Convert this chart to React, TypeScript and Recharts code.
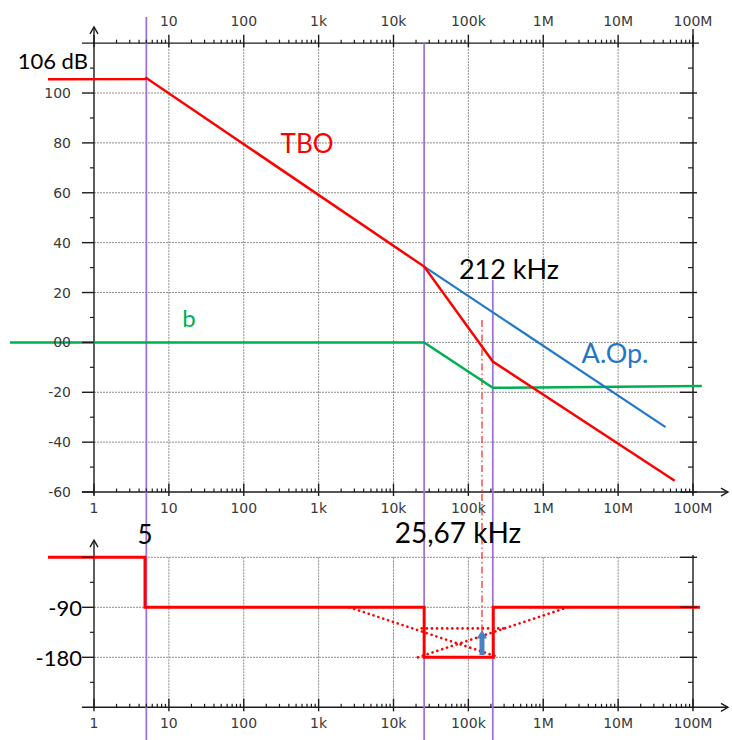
import React from "react";
import { ComposedChart, XAxis, YAxis, Line, ReferenceLine, ReferenceDot } from "recharts";

// ---------------- data ----------------
const DECADES = [1, 10, 100, 1e3, 1e4, 1e5, 1e6, 1e7, 1e8];
const DECADE_LABELS = ["1", "10", "100", "1k", "10k", "100k", "1M", "10M", "100M"];
const MINOR_MULT = [2, 3, 4, 5, 6, 7, 8, 9];

const MAG_MAJOR = [-60, -40, -20, 0, 20, 40, 60, 80, 100];
const MAG_MAJOR_LABELS = ["-60", "-40", "-20", "00", "20", "40", "60", "80", "100"];
const MAG_MINOR = [-50, -30, -10, 10, 30, 50, 70, 90, 110];
const MAG_GRID = [-40, -20, 0, 20, 40, 60, 80, 100];

const PH_MAJOR = [0, -90, -180];
const PH_MAJOR_LABELS = ["", "-90", "-180"];
const PH_MINOR = [-45, -135, -225];
const PH_GRID = [0, -90, -180];

// magnitude asymptotes (f in Hz, v in dB)
const tboMag = [
  { f: 0.243, v: 105.5 },
  { f: 4.85, v: 105.6 },
  { f: 5, v: 106 },
  { f: 25670, v: 30.4 },
  { f: 212000, v: -7.7 },
  { f: 5.7e7, v: -55.5 },
];
const aopMag = [
  { f: 25670, v: 30.4 },
  { f: 4.3e7, v: -34 },
];
const bMag = [
  { f: 0.0755, v: 0 },
  { f: 25670, v: 0 },
  { f: 212000, v: -18.2 },
  { f: 1.31e8, v: -17.5 },
];

// phase (degrees)
const tboPhase = [
  { f: 0.243, v: 0 },
  { f: 4.8, v: 0 },
  { f: 4.8, v: -90 },
  { f: 25670, v: -90 },
  { f: 25670, v: -180 },
  { f: 215000, v: -180 },
  { f: 215000, v: -90 },
  { f: 1.24e8, v: -90 },
];
const asym1 = [
  { f: 2567, v: -90 },
  { f: 256700, v: -180 },
];
const asym2 = [
  { f: 21200, v: -180 },
  { f: 2.12e6, v: -90 },
];
const asym3 = [
  { f: 23800, v: -128 },
  { f: 3.0e5, v: -128 },
];
const marginArrow = [
  { f: 152000, v: -176 },
  { f: 152000, v: -138 },
];

// vertical markers
const CORNERS = [5, 25670, 212000];
const CORNER_TOPS = [130.5, 120, 25];
const MARKER_BOTTOM = -160;
const PM_FREQ = 152000;
const PM_TOP = 9;
const PM_BOTTOM = -116;

// axis extents
const AXIS_LEFT_F = 0.69;
const AXIS_ARROW_F = 2.93e8;
const TOP_AXIS_END_F = 1.2e8;
const MAG_AXIS_TOP = 126.5;
const MAG_TOP_LINE = 120;
const MAG_BOTTOM_LINE = -60;
const RIGHT_AXIS_TOP = 125.7;
const PH_AXIS_TOP = 31;
const PH_BOTTOM_LINE = -270;
const PH_RIGHT_TOP = 4;

// annotations
const ANNOTATIONS = [
  { text: "106 dB", f: 0.83, v: 113.2, color: "#000000", size: 22, anchor: "end" },
  { text: "TBO", f: 700, v: 80, color: "#ff0000", size: 26, anchor: "middle" },
  { text: "b", f: 18.6, v: 9.8, color: "#00b050", size: 24, anchor: "middle" },
  { text: "A.Op.", f: 9.1e6, v: -3.9, color: "#1f78c8", size: 27, anchor: "middle" },
  { text: "212 kHz", f: 349000, v: 29.8, color: "#000000", size: 27, anchor: "middle" },
  { text: "25,67 kHz", f: 72600, v: -76, color: "#000000", size: 28, anchor: "middle" },
  { text: "5", f: 4.8, v: -76.8, color: "#000000", size: 26, anchor: "middle" },
];

// ---------------- layout ----------------
const W = 732;
const H = 740;
const PX_PER_DEC = 74.875;
const X_ONE = 94;
const X_DOMAIN = [Math.pow(10, -X_ONE / PX_PER_DEC), Math.pow(10, (W - X_ONE) / PX_PER_DEC)];
const MAG_PX = 2.49375;
const MAG0_Y = 342.4;
const MAG_DOMAIN = [-(H - MAG0_Y) / MAG_PX, MAG0_Y / MAG_PX];
const PH_PX = 0.5556;
const PH0_Y = 557.3;
const PH_DOMAIN = [-(H - PH0_Y) / PH_PX, PH0_Y / PH_PX];

const AXIS_COLOR = "#1c1c1c";
const GRID_COLOR = "#8c8c8c";
const PURPLE = "#9f74d6";
const TICK_FONT = "'DejaVu Sans', sans-serif";
const ANNOT_FONT = "Lato, 'Open Sans', sans-serif";

const xTickShape = (side: "top" | "bottom", major: boolean, label: string) => (p: any) => {
  const { cx, cy } = p;
  const up = major ? 8.5 : 3.5;
  const down = major ? 4 : 0;
  return (
    <g>
      <line x1={cx} x2={cx} y1={cy - up} y2={cy + down} stroke={AXIS_COLOR} strokeWidth={major ? 1.4 : 1.2} />
      {label ? (
        <text
          x={cx}
          y={side === "top" ? cy - 22 : cy + 16}
          textAnchor="middle"
          dominantBaseline="central"
          fontFamily={TICK_FONT}
          fontSize={14}
          fill="#3a3a3a"
        >
          {label}
        </text>
      ) : null}
    </g>
  );
};

const yTickShape = (side: "left" | "right", major: boolean, label: string, big: boolean) => (p: any) => {
  const { cx, cy } = p;
  const x1 = side === "left" ? cx - (major ? 12 : 4) : cx - (major ? 13 : 5);
  const x2 = side === "left" ? cx : cx + (major ? 4 : 0);
  return (
    <g>
      <line x1={x1} x2={x2} y1={cy} y2={cy} stroke={AXIS_COLOR} strokeWidth={major ? 1.4 : 1.2} />
      {label ? (
        <text
          x={big ? cx - 12 : cx - 23}
          y={cy}
          textAnchor="end"
          dominantBaseline="central"
          fontFamily={big ? ANNOT_FONT : TICK_FONT}
          fontSize={big ? 22 : 14}
          fill={big ? "#000" : "#3a3a3a"}
        >
          {label}
        </text>
      ) : null}
    </g>
  );
};

const arrowUp = (p: any) => (
  <path d={`M${p.cx - 4},${p.cy + 7} L${p.cx},${p.cy} L${p.cx + 4},${p.cy + 7}`} fill="none" stroke={AXIS_COLOR} strokeWidth={1.4} />
);
const arrowRight = (p: any) => (
  <path d={`M${p.cx - 7},${p.cy - 4} L${p.cx},${p.cy} L${p.cx - 7},${p.cy + 4}`} fill="none" stroke={AXIS_COLOR} strokeWidth={1.4} />
);

const textShape = (a: (typeof ANNOTATIONS)[number]) => (p: any) => (
  <text
    x={p.cx}
    y={p.cy}
    fill={a.color}
    fontSize={a.size}
    fontFamily={ANNOT_FONT}
    textAnchor={a.anchor as any}
    dominantBaseline="central"
  >
    {a.text}
  </text>
);

const arrowHeadDot = (p: any) => {
  if (p.index !== marginArrow.length - 1) return <g key={`ad${p.index}`} />;
  return (
    <path
      key={`ad${p.index}`}
      d={`M${p.cx - 4.5},${p.cy + 4} L${p.cx},${p.cy - 3} L${p.cx + 4.5},${p.cy + 4} Z`}
      fill="#4a7fc0"
      stroke="#4a7fc0"
    />
  );
};

export default function App() {
  const xTicks = (axisY: "mag" | "ph", yVal: number, side: "top" | "bottom", keyBase: string) => {
    const out: React.ReactNode[] = [];
    DECADES.forEach((d, i) => {
      const label = side === "top" && i === 0 ? "" : DECADE_LABELS[i];
      out.push(
        <ReferenceDot key={`${keyBase}M${i}`} x={d} y={yVal} yAxisId={axisY} r={0} shape={xTickShape(side, true, label)} />
      );
      if (i < DECADES.length - 1) {
        MINOR_MULT.forEach((m) => {
          out.push(
            <ReferenceDot key={`${keyBase}m${i}_${m}`} x={d * m} y={yVal} yAxisId={axisY} r={0} shape={xTickShape(side, false, "")} />
          );
        });
      }
    });
    return out;
  };

  const lastDec = DECADES[DECADES.length - 1];
  const lineCommon = { type: "linear" as const, dot: false, activeDot: false, isAnimationActive: false, legendType: "none" as const };

  return (
    <div style={{ position: "absolute", left: 0, top: 0, width: W, height: H, background: "#fff" }}>
      <ComposedChart width={W} height={H} margin={{ top: 0, right: 0, bottom: 0, left: 0 }}>
        <XAxis dataKey="f" type="number" scale="log" domain={X_DOMAIN} allowDataOverflow hide />
        <YAxis yAxisId="mag" type="number" domain={MAG_DOMAIN} allowDataOverflow hide />
        <YAxis yAxisId="ph" type="number" domain={PH_DOMAIN} allowDataOverflow hide />

        {/* grid - magnitude panel */}
        {DECADES.slice(1, -1).map((d) => (
          <ReferenceLine key={`gvm${d}`} yAxisId="mag" segment={[{ x: d, y: MAG_TOP_LINE }, { x: d, y: MAG_BOTTOM_LINE }]} stroke={GRID_COLOR} strokeDasharray="2 1" strokeWidth={1} ifOverflow="visible" />
        ))}
        {MAG_GRID.map((v) => (
          <ReferenceLine key={`ghm${v}`} yAxisId="mag" segment={[{ x: 1, y: v }, { x: lastDec, y: v }]} stroke={GRID_COLOR} strokeDasharray="2 1" strokeWidth={1} ifOverflow="visible" />
        ))}
        {/* grid - phase panel */}
        {DECADES.slice(1, -1).map((d) => (
          <ReferenceLine key={`gvp${d}`} yAxisId="ph" segment={[{ x: d, y: 0 }, { x: d, y: PH_BOTTOM_LINE }]} stroke={GRID_COLOR} strokeDasharray="2 1" strokeWidth={1} ifOverflow="visible" />
        ))}
        {PH_GRID.map((v) => (
          <ReferenceLine key={`ghp${v}`} yAxisId="ph" segment={[{ x: 1, y: v }, { x: lastDec, y: v }]} stroke={GRID_COLOR} strokeDasharray="2 1" strokeWidth={1} ifOverflow="visible" />
        ))}

        {/* axis lines - magnitude */}
        <ReferenceLine yAxisId="mag" segment={[{ x: 1, y: MAG_AXIS_TOP }, { x: 1, y: MAG_BOTTOM_LINE - 1 }]} stroke={AXIS_COLOR} strokeWidth={1.4} ifOverflow="visible" />
        <ReferenceLine yAxisId="mag" segment={[{ x: lastDec, y: RIGHT_AXIS_TOP }, { x: lastDec, y: MAG_BOTTOM_LINE - 1 }]} stroke={AXIS_COLOR} strokeWidth={1.4} ifOverflow="visible" />
        <ReferenceLine yAxisId="mag" segment={[{ x: AXIS_LEFT_F, y: MAG_TOP_LINE }, { x: TOP_AXIS_END_F, y: MAG_TOP_LINE }]} stroke={AXIS_COLOR} strokeWidth={1.4} ifOverflow="visible" />
        <ReferenceLine yAxisId="mag" segment={[{ x: AXIS_LEFT_F, y: MAG_BOTTOM_LINE }, { x: AXIS_ARROW_F, y: MAG_BOTTOM_LINE }]} stroke={AXIS_COLOR} strokeWidth={1.4} ifOverflow="visible" />
        {/* axis lines - phase */}
        <ReferenceLine yAxisId="ph" segment={[{ x: 1, y: PH_AXIS_TOP }, { x: 1, y: PH_BOTTOM_LINE - 2 }]} stroke={AXIS_COLOR} strokeWidth={1.4} ifOverflow="visible" />
        <ReferenceLine yAxisId="ph" segment={[{ x: lastDec, y: PH_RIGHT_TOP }, { x: lastDec, y: PH_BOTTOM_LINE - 2 }]} stroke={AXIS_COLOR} strokeWidth={1.4} ifOverflow="visible" />
        <ReferenceLine yAxisId="ph" segment={[{ x: AXIS_LEFT_F, y: PH_BOTTOM_LINE }, { x: AXIS_ARROW_F, y: PH_BOTTOM_LINE }]} stroke={AXIS_COLOR} strokeWidth={1.4} ifOverflow="visible" />

        {/* vertical markers */}
        {CORNERS.map((f, i) => (
          <ReferenceLine key={`mk${f}`} yAxisId="mag" segment={[{ x: f, y: CORNER_TOPS[i] }, { x: f, y: MARKER_BOTTOM }]} stroke={PURPLE} strokeWidth={1.8} ifOverflow="visible" />
        ))}
        <ReferenceLine yAxisId="mag" segment={[{ x: PM_FREQ, y: PM_TOP }, { x: PM_FREQ, y: PM_BOTTOM }]} stroke="#ff2020" strokeWidth={1.2} strokeDasharray="7 3 1.5 3" ifOverflow="visible" />

        {/* ticks */}
        {xTicks("mag", MAG_TOP_LINE, "top", "tt")}
        {xTicks("mag", MAG_BOTTOM_LINE, "bottom", "tb")}
        {xTicks("ph", PH_BOTTOM_LINE, "bottom", "pb")}
        {MAG_MAJOR.map((v, i) => (
          <ReferenceDot key={`yml${v}`} x={1} y={v} yAxisId="mag" r={0} shape={yTickShape("left", true, MAG_MAJOR_LABELS[i], false)} />
        ))}
        {MAG_MINOR.map((v) => (
          <ReferenceDot key={`ymln${v}`} x={1} y={v} yAxisId="mag" r={0} shape={yTickShape("left", false, "", false)} />
        ))}
        {MAG_MAJOR.map((v) => (
          <ReferenceDot key={`ymr${v}`} x={lastDec} y={v} yAxisId="mag" r={0} shape={yTickShape("right", true, "", false)} />
        ))}
        {MAG_MINOR.map((v) => (
          <ReferenceDot key={`ymrn${v}`} x={lastDec} y={v} yAxisId="mag" r={0} shape={yTickShape("right", false, "", false)} />
        ))}
        {PH_MAJOR.map((v, i) => (
          <ReferenceDot key={`ypl${v}`} x={1} y={v} yAxisId="ph" r={0} shape={yTickShape("left", true, PH_MAJOR_LABELS[i], true)} />
        ))}
        {PH_MINOR.map((v) => (
          <ReferenceDot key={`ypln${v}`} x={1} y={v} yAxisId="ph" r={0} shape={yTickShape("left", false, "", true)} />
        ))}
        {PH_MAJOR.map((v) => (
          <ReferenceDot key={`ypr${v}`} x={lastDec} y={v} yAxisId="ph" r={0} shape={yTickShape("right", true, "", true)} />
        ))}
        {PH_MINOR.map((v) => (
          <ReferenceDot key={`yprn${v}`} x={lastDec} y={v} yAxisId="ph" r={0} shape={yTickShape("right", false, "", true)} />
        ))}
        <ReferenceDot x={1} y={MAG_AXIS_TOP} yAxisId="mag" r={0} shape={arrowUp} />
        <ReferenceDot x={1} y={PH_AXIS_TOP} yAxisId="ph" r={0} shape={arrowUp} />
        <ReferenceDot x={AXIS_ARROW_F} y={MAG_BOTTOM_LINE} yAxisId="mag" r={0} shape={arrowRight} />
        <ReferenceDot x={AXIS_ARROW_F} y={PH_BOTTOM_LINE} yAxisId="ph" r={0} shape={arrowRight} />

        {/* series */}
        <Line {...lineCommon} data={bMag} dataKey="v" yAxisId="mag" stroke="#00b050" strokeWidth={2.5} />
        <Line {...lineCommon} data={aopMag} dataKey="v" yAxisId="mag" stroke="#1f78c8" strokeWidth={2.2} />
        <Line {...lineCommon} data={tboMag} dataKey="v" yAxisId="mag" stroke="#ff0000" strokeWidth={2.5} />

        <Line {...lineCommon} data={asym1} dataKey="v" yAxisId="ph" stroke="#ff0000" strokeWidth={2.6} strokeDasharray="0.1 5" strokeLinecap="round" />
        <Line {...lineCommon} data={asym2} dataKey="v" yAxisId="ph" stroke="#ff0000" strokeWidth={2.6} strokeDasharray="0.1 5" strokeLinecap="round" />
        <Line {...lineCommon} data={asym3} dataKey="v" yAxisId="ph" stroke="#ff0000" strokeWidth={2.6} strokeDasharray="0.1 5" strokeLinecap="round" />
        <Line {...lineCommon} data={tboPhase} dataKey="v" yAxisId="ph" stroke="#ff0000" strokeWidth={3} />
        <Line {...lineCommon} data={marginArrow} dataKey="v" yAxisId="ph" stroke="#4a7fc0" strokeWidth={5} dot={arrowHeadDot} />

        {/* annotations */}
        {ANNOTATIONS.map((a) => (
          <ReferenceDot key={`an${a.text}`} x={a.f} y={a.v} yAxisId="mag" r={0} shape={textShape(a)} />
        ))}
      </ComposedChart>
    </div>
  );
}
